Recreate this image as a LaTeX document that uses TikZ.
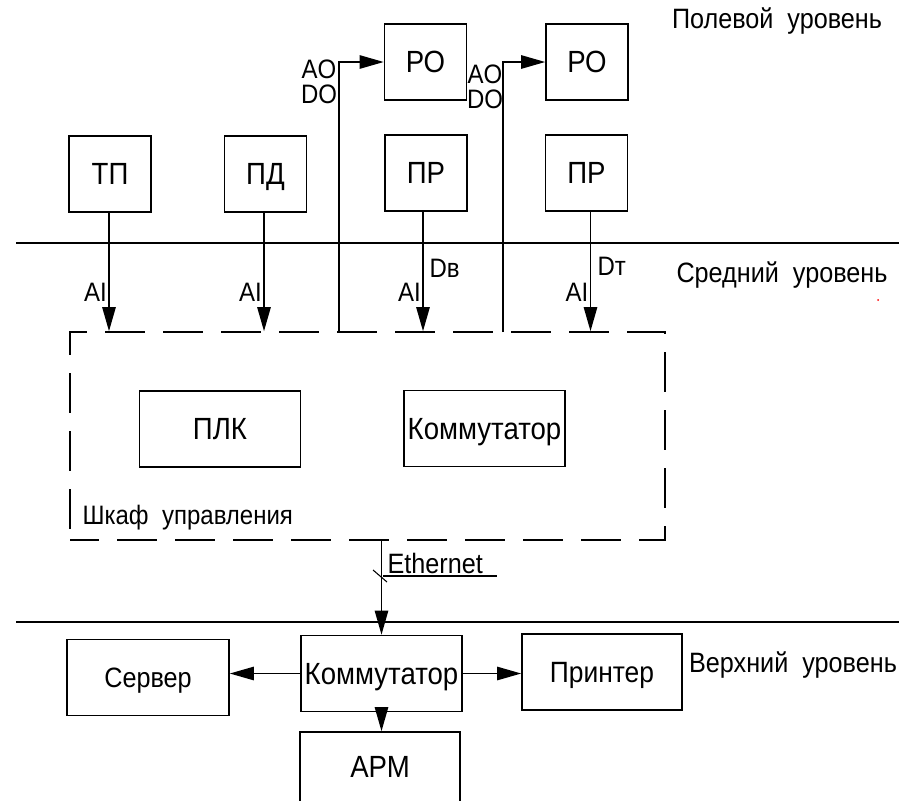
\documentclass[tikz,border=0pt]{standalone}
\usepackage{fontspec}
\setmainfont{Liberation Sans}[FakeStretch=0.9]
\usetikzlibrary{arrows.meta, positioning, calc}

\begin{document}
\begin{tikzpicture}[x=0.75pt, y=-0.75pt,
    blk/.style={draw, line width=1.2pt, inner sep=0pt, text depth=0pt, minimum width=61.5pt, minimum height=57pt, font=\fontsize{23}{26}\selectfont},
    wblk/.style={blk, minimum width=120.75pt},
    sig/.style={line width=1.2pt, -{Triangle[length=18pt, width=10pt]}},
    lvl/.style={line width=1.2pt},
    tag/.style={font=\fontsize{20}{18}\selectfont, inner sep=1pt},
    lvltext/.style={font=\fontsize{21}{22}\selectfont, inner sep=0pt}]
    \clip (0,0) rectangle (899,800);

    % Field level
    \node[blk] (po1) at (425.5,62) {РО};
    \node[blk] (po2) at (587,62) {РО};
    \node[blk] (tp) at (110,174) {ТП};
    \node[blk] (pd) at (265.5,174) {ПД};
    \node[blk] (pr1) at (426,173) {ПР};
    \node[blk] (pr2) at (586.5,173) {ПР};

    % Level borders
    \draw[lvl] (16,243) -- (899,243);
    \draw[lvl] (16,622) -- (899,622);
    \node[lvltext] (lvlfield) at (777,21) {Полевой\ \ уровень};
    \node[lvltext] (lvlmid) at (782,275) {Средний\ \ уровень};
    \node[lvltext] (lvltop) at (793,665) {Верхний\ \ уровень};
    \fill[red] (878,300) circle (1);

    % Control cabinet
    \node[draw, line width=1.2pt, dash pattern=on 30pt off 13.5pt, dash phase=8pt,
          minimum width=446.25pt, minimum height=156pt] (cab) at (367.5,436) {};
    \node[wblk] (plc) at (220,429) {ПЛК};
    \node[wblk] (sw1) at (484.5,428.5) {Коммутатор};
    \node[tag, anchor=west, font=\fontsize{20}{22}\selectfont] (cabname) at (81,518) {Шкаф\ \ управления};

    % Analog inputs
    \foreach \n/\dx in {tp/-1, pd/-1.5, pr1/-3, pr2/4} {
        \draw[sig] ($(\n.south)+(\dx,0)$) -- ($(\n.south |- cab.north)+(\dx,0)$)
            node[tag, pos=0.675, left] {AI};
    }
    \node[tag, anchor=west] (dv) at (428,268) {Dв};
    \node[tag, anchor=west] (dt) at (596,266) {Dт};

    % Outputs to actuators
    \coordinate (ao1) at (339,332);
    \coordinate (ao2) at (503,332);
    \draw[sig] (ao1) |- (po1.west);
    \draw[sig] (ao2) |- (po2.west);
    \node[tag, align=center, font=\fontsize{20}{19}\selectfont] (aodo1) at (319,82) {AO\\DO};
    \node[tag, align=center, font=\fontsize{20}{19}\selectfont] (aodo2) at (485,87) {AO\\DO};

    % Upper level
    \node[wblk] (sw2) at (381.5,673.5) {Коммутатор};
    \node[wblk, minimum width=121.5pt, font=\fontsize{21}{24}\selectfont] (srv) at (148,677.5) {Сервер};
    \node[wblk, minimum width=120pt, font=\fontsize{22}{24}\selectfont] (prn) at (602,672) {Принтер};
    \node[blk, minimum width=120pt, minimum height=52.5pt] (arm) at (380,767) {АРМ};

    \draw[sig] (cab.south -| sw2.north) -- (sw2.north);
    \draw[line width=0.8pt] (373,570) -- (387,582);
    \draw[line width=0.8pt] (383,576) -- (497,576);
    \node[tag, anchor=base west, font=\fontsize{21}{22}\selectfont] (eth) at (386,573) {Ethernet};

    \draw[sig] (sw2.west) -- (sw2.west -| srv.east);
    \draw[sig] (sw2.east) -- (sw2.east -| prn.west);
    \draw[sig] (sw2.south) -- (sw2.south |- arm.north);
\end{tikzpicture}
\end{document}
